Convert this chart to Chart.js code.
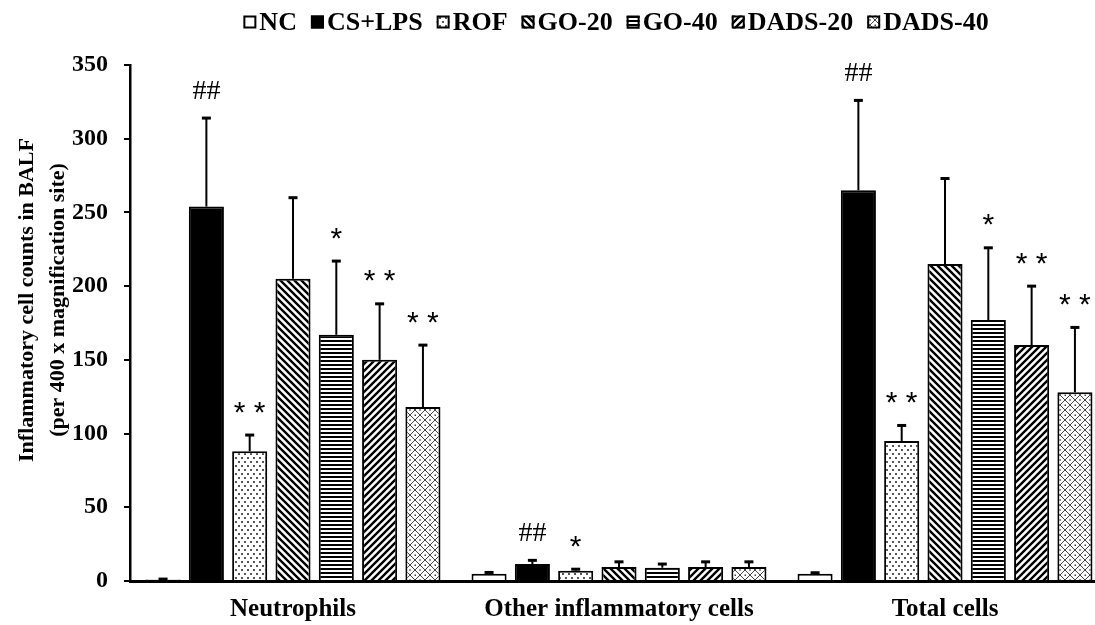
<!DOCTYPE html>
<html><head><meta charset="utf-8">
<script src="https://cdn.jsdelivr.net/npm/chart.js@4.4.0/dist/chart.umd.min.js"></script>
<style>
html,body{margin:0;padding:0;background:#fff;overflow:hidden;width:1095px;height:625px}
#wrap{position:relative;width:1110px;height:625px}
</style>
</head><body><div id="wrap"><canvas id="c" width="1110" height="625"></canvas></div>
<script>
const categories = ['Neutrophils', 'Other inflammatory cells', 'Total cells'];
const seriesNames = ['NC', 'CS+LPS', 'ROF', 'GO-20', 'GO-40', 'DADS-20', 'DADS-40'];
const NC = [1, 5, 5];
const CS_LPS = [254, 11.5, 265];
const ROF = [88, 7, 95];
const GO20 = [205, 9.5, 215];
const GO40 = [167, 9, 177];
const DADS20 = [150, 9.5, 160];
const DADS40 = [118, 9.5, 128];
const NC_SD = [0.3, 0.8, 0.6];
const CS_LPS_SD = [60, 2.5, 61];
const ROF_SD = [11, 1, 10.5];
const GO20_SD = [55, 3.5, 58];
const GO40_SD = [50, 2.5, 49];
const DADS20_SD = [38, 3.5, 40];
const DADS40_SD = [42, 3.5, 44];
const NC_SIG = ['', '', ''];
const CS_LPS_SIG = ['##', '##', '##'];
const ROF_SIG = ['**', '*', '**'];
const GO20_SIG = ['', '', ''];
const GO40_SIG = ['*', '', '*'];
const DADS20_SIG = ['**', '', '**'];
const DADS40_SIG = ['**', '', '**'];
const yTitle = ['Inflammatory cell counts in BALF', '(per 400 x magnification site)'];

const canvas = document.getElementById('c');
const mainCtx = canvas.getContext('2d');
function mkPattern(w, h, draw) {
  const c = document.createElement('canvas');
  c.width = w; c.height = h;
  const g = c.getContext('2d');
  g.fillStyle = '#fff'; g.fillRect(0, 0, w, h);
  draw(g, w, h);
  return mainCtx.createPattern(c, 'repeat');
}
const patDots = mkPattern(6, 8, g => {
  g.fillStyle = '#555';
  g.fillRect(1, 1, 2, 2); g.fillRect(4, 5, 2, 2);
});
const patBack = mkPattern(7, 7, (g, p) => {
  g.strokeStyle = '#000'; g.lineWidth = 2.4; g.beginPath();
  for (const c of [-p, 0, p]) { g.moveTo(-1, -1 + c); g.lineTo(p + 1, p + 1 + c); }
  g.stroke();
});
const patFwd = mkPattern(7, 7, (g, p) => {
  g.strokeStyle = '#000'; g.lineWidth = 2.4; g.beginPath();
  for (const c of [0, p, 2 * p]) { g.moveTo(-1, c + 1); g.lineTo(p + 1, c - p - 1); }
  g.stroke();
});
const patHoriz = mkPattern(4, 4, g => { g.fillStyle = '#000'; g.fillRect(0, 0, 4, 2); });
const patCross = mkPattern(10, 10, g => {
  g.strokeStyle = '#444'; g.lineWidth = 1; g.beginPath();
  g.moveTo(-1, 4); g.lineTo(6, 11); g.moveTo(4, -1); g.lineTo(11, 6);
  g.moveTo(-1, 6); g.lineTo(6, -1); g.moveTo(4, 11); g.lineTo(11, 4);
  g.stroke();
  g.fillStyle = '#444';
  g.fillRect(4.5, 4.5, 1.5, 1.5);
  g.fillRect(-0.75, -0.75, 1.5, 1.5); g.fillRect(9.25, -0.75, 1.5, 1.5);
  g.fillRect(-0.75, 9.25, 1.5, 1.5); g.fillRect(9.25, 9.25, 1.5, 1.5);
});

const means = [NC, CS_LPS, ROF, GO20, GO40, DADS20, DADS40];
const sds = [NC_SD, CS_LPS_SD, ROF_SD, GO20_SD, GO40_SD, DADS20_SD, DADS40_SD];
const sigs = [NC_SIG, CS_LPS_SIG, ROF_SIG, GO20_SIG, GO40_SIG, DADS20_SIG, DADS40_SIG];
const fills = ['#fff', '#000', patDots, patBack, patHoriz, patFwd, patCross];

const datasets = seriesNames.map((n, i) => ({
  label: n, data: means[i], sd: sds[i], sig: sigs[i],
  backgroundColor: fills[i], borderColor: '#000', borderWidth: 2,
  categoryPercentage: 0.93, barPercentage: 0.81
}));

const SERIF = '"Liberation Serif", "Times New Roman", serif';

const extras = {
  id: 'extras',
  afterDatasetsDraw(chart) {
    const ctx = chart.ctx, y = chart.scales.y;
    ctx.save();
    chart.data.datasets.forEach((ds, i) => {
      const meta = chart.getDatasetMeta(i);
      meta.data.forEach((bar, j) => {
        const x = bar.x;
        const top = y.getPixelForValue(ds.data[j]);
        const et = y.getPixelForValue(ds.data[j] + ds.sd[j]);
        ctx.strokeStyle = '#000';
        ctx.lineWidth = 2;
        ctx.beginPath(); ctx.moveTo(x, top); ctx.lineTo(x, et); ctx.stroke();
        ctx.lineWidth = 3;
        ctx.beginPath(); ctx.moveTo(x - 4.5, et); ctx.lineTo(x + 4.5, et); ctx.stroke();
        const s = ds.sig[j];
        if (s) {
          let t = s, font;
          if (s.startsWith('#')) { font = '28px ' + SERIF; }
          else { font = '30px "Liberation Sans", Arial, sans-serif'; t = s.split('').join(' '); }
          ctx.font = font; ctx.fillStyle = '#000'; ctx.textAlign = 'center'; ctx.textBaseline = 'alphabetic';
          const m = ctx.measureText(t);
          const cy = et - 28;
          ctx.fillText(t, x, cy + (m.actualBoundingBoxAscent - m.actualBoundingBoxDescent) / 2);
        }
      });
    });
    ctx.restore();
  },
  afterDraw(chart) {
    const ctx = chart.ctx;
    ctx.save();
    ctx.font = 'bold 22px ' + SERIF; ctx.fillStyle = '#000';
    ctx.textAlign = 'center'; ctx.textBaseline = 'middle';
    ctx.translate(0, 300); ctx.rotate(-Math.PI / 2);
    ctx.fillText(yTitle[0], 0, 27);
    ctx.fillText(yTitle[1], 0, 58);
    ctx.restore();
    ctx.save();
    ctx.font = 'bold 26px ' + SERIF; ctx.textBaseline = 'middle'; ctx.textAlign = 'left';
    const box = 13, gapT = 3, gapI = 14, cy = 22;
    const items = chart.data.datasets.map(ds => ({ ds, w: box + gapT + ctx.measureText(ds.label).width }));
    const total = items.reduce((a, b) => a + b.w, 0) + gapI * (items.length - 1);
    let x = 616 - total / 2;
    items.forEach(it => {
      ctx.fillStyle = it.ds.backgroundColor;
      ctx.fillRect(x, cy - box / 2, box, box);
      ctx.strokeStyle = '#000'; ctx.lineWidth = 2;
      ctx.strokeRect(x + 1, cy - box / 2 + 1, box - 2, box - 2);
      ctx.fillStyle = '#000';
      ctx.fillText(it.ds.label, x + box + gapT, cy + 1);
      x += it.w + gapI;
    });
    ctx.restore();
  }
};

new Chart(canvas, {
  type: 'bar',
  data: { labels: categories, datasets },
  options: {
    responsive: false, animation: false, devicePixelRatio: 1,
    layout: { padding: { top: 65, left: 0, right: 2, bottom: 0 } },
    plugins: { legend: { display: false }, tooltip: { enabled: false }, title: { display: false } },
    scales: {
      x: {
        type: 'category', offset: true,
        grid: { display: false, drawTicks: false },
        border: { display: true, color: '#000', width: 3 },
        ticks: { color: '#000', font: { family: SERIF, size: 25, weight: 'bold' }, padding: 14, maxRotation: 0, autoSkip: false },
        afterFit(s) { s.height = 44; }
      },
      y: {
        min: 0, max: 350,
        ticks: { stepSize: 50, color: '#000', font: { family: SERIF, size: 24, weight: 'bold' }, padding: 16 },
        grid: { display: true, drawOnChartArea: false, drawTicks: true, tickLength: 6, color: '#000', lineWidth: 2 },
        border: { display: true, color: '#000', width: 2.5 },
        afterFit(s) { s.width = 130; }
      }
    }
  },
  plugins: [extras]
});
</script>
</body></html>
